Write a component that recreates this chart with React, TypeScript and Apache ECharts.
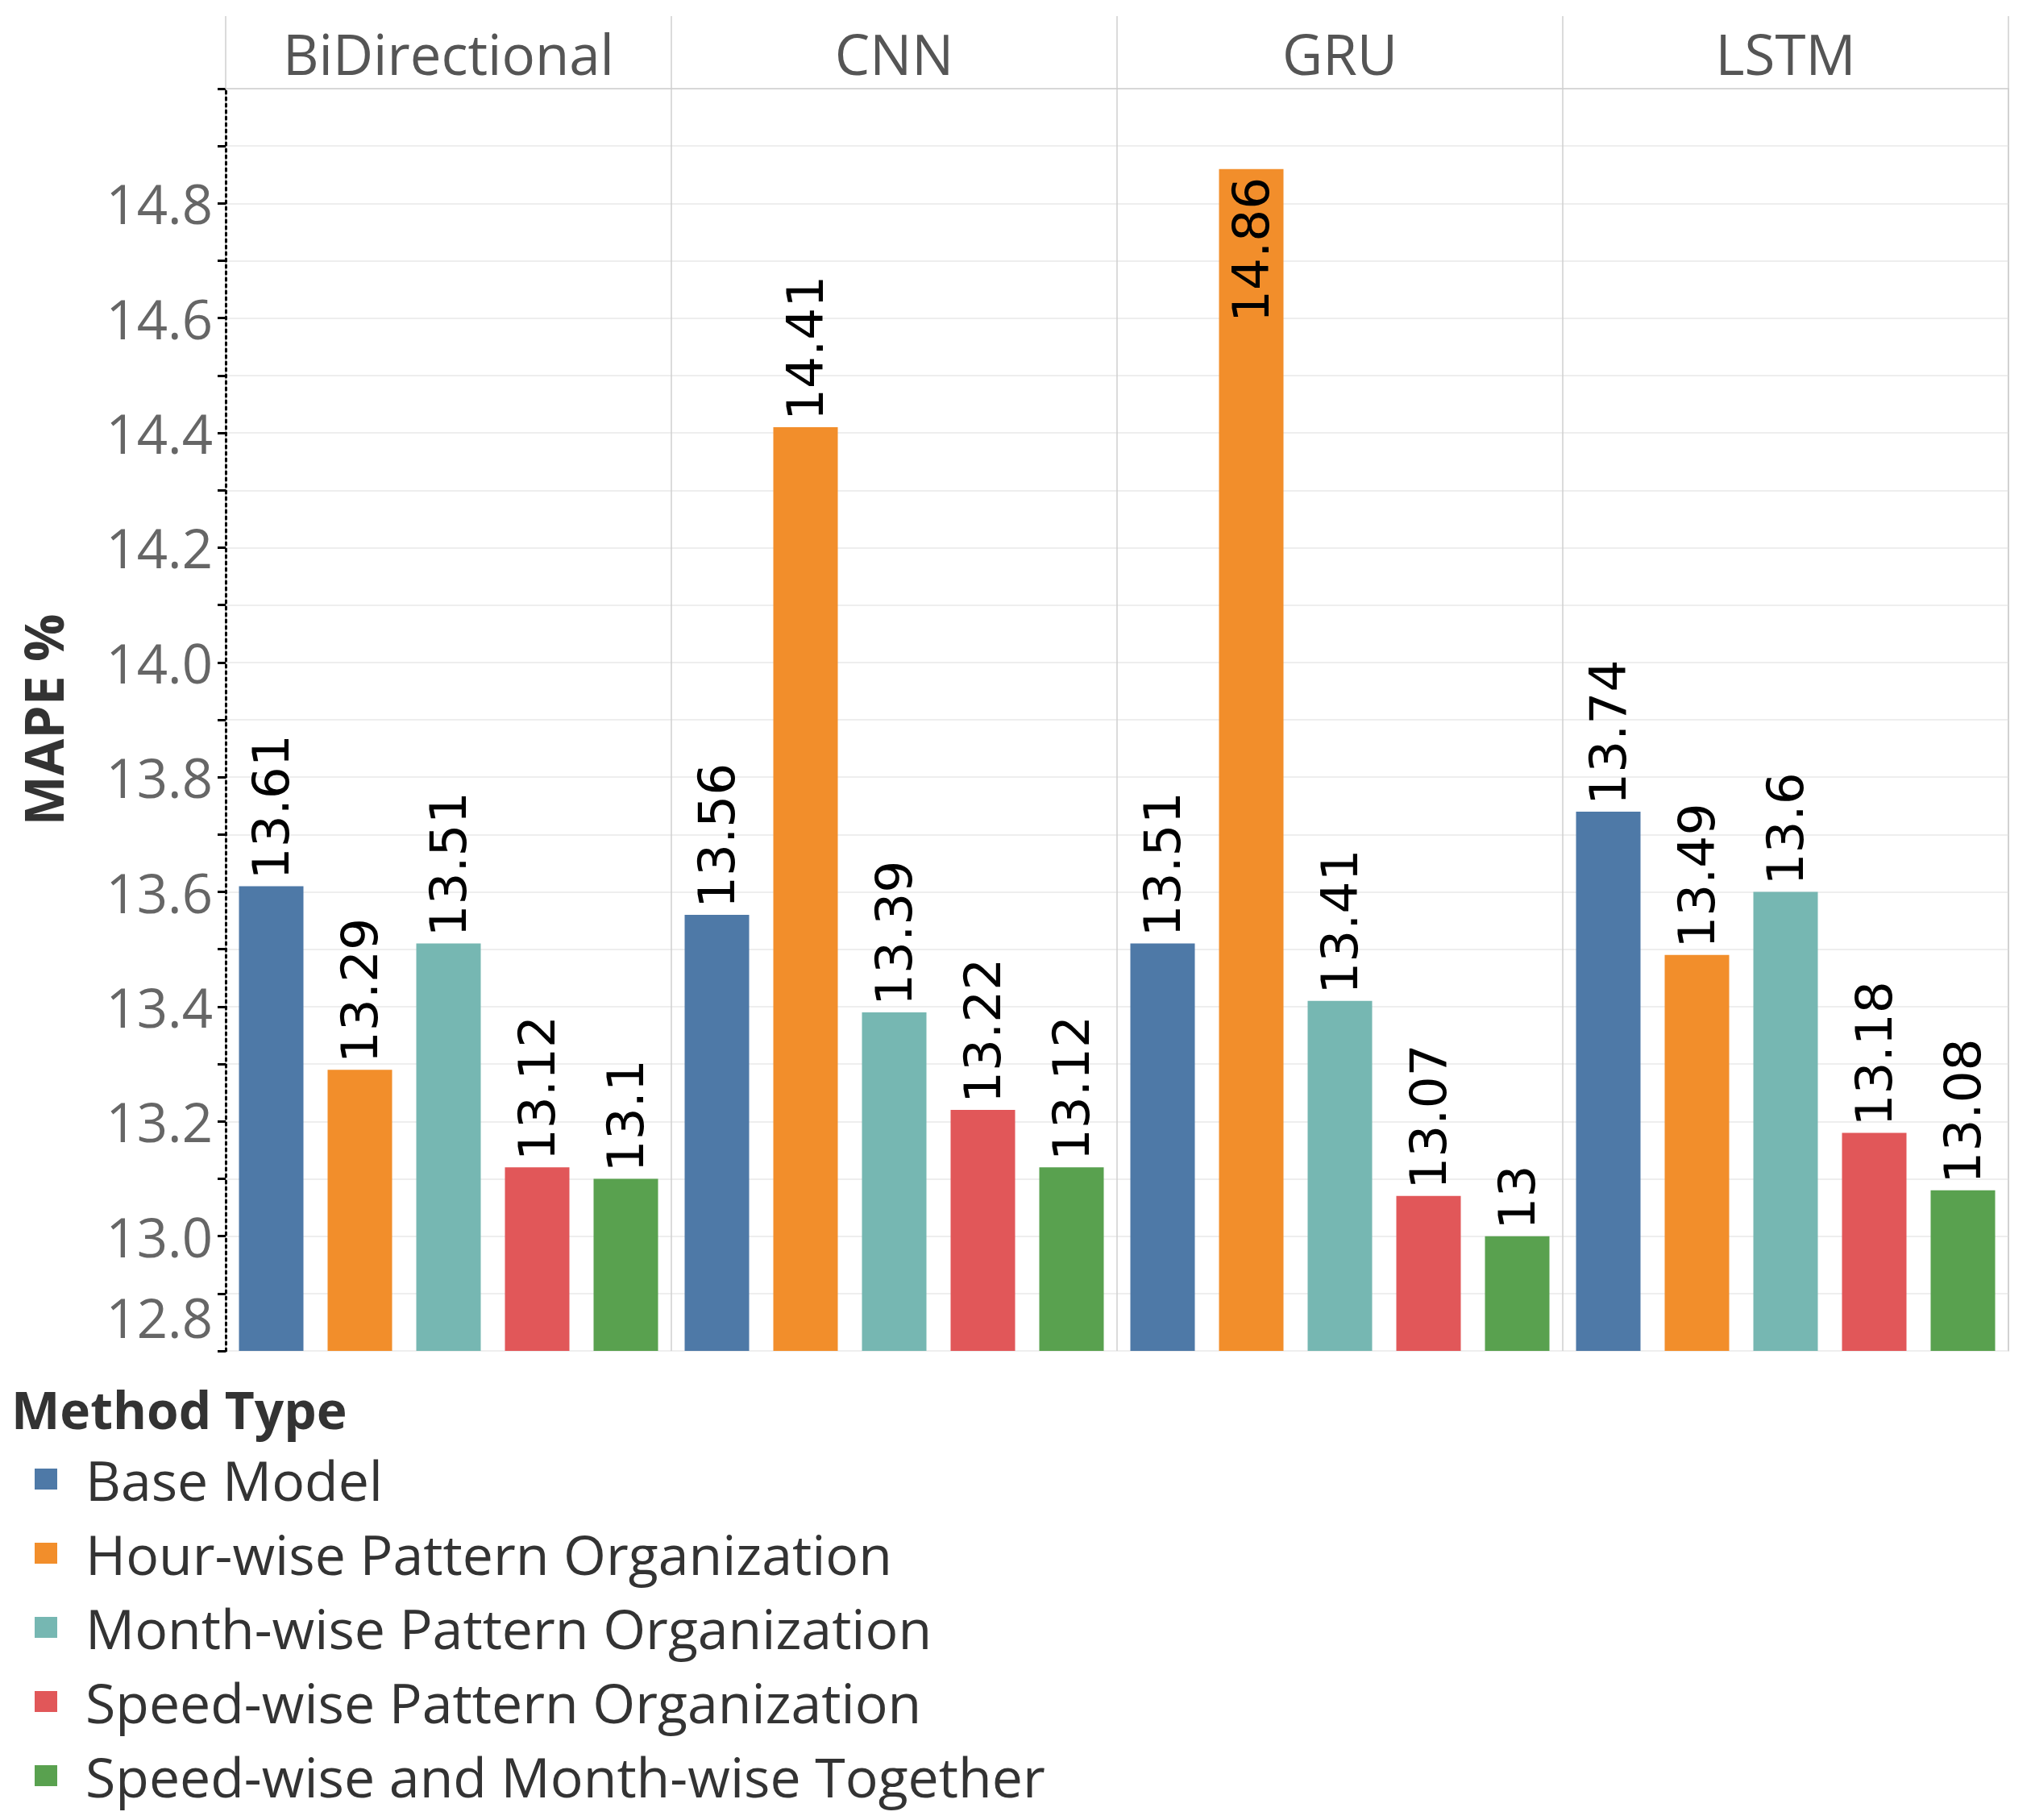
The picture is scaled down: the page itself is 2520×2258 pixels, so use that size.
import React, { useEffect, useRef } from "react";
import * as echarts from "echarts";

const categories = ["BiDirectional", "CNN", "GRU", "LSTM"];
const methodNames = [
  "Base Model",
  "Hour-wise Pattern Organization",
  "Month-wise Pattern Organization",
  "Speed-wise Pattern Organization",
  "Speed-wise and Month-wise Together",
];
const methodColors = ["#4e79a7", "#f28e2b", "#76b7b2", "#e15759", "#59a14f"];

const baseModel = [13.61, 13.56, 13.51, 13.74];
const hourWise = [13.29, 14.41, 14.86, 13.49];
const monthWise = [13.51, 13.39, 13.41, 13.6];
const speedWise = [13.12, 13.22, 13.07, 13.18];
const speedMonthTogether = [13.1, 13.12, 13, 13.08];

const seriesValues = [baseModel, hourWise, monthWise, speedWise, speedMonthTogether];

const yMin = 12.8;
const yMax = 15.0;
const yInterval = 0.1;

const FONT = "'Open Sans', 'Noto Sans', sans-serif";
const LABEL_FONT = "'DejaVu Sans', sans-serif";

export default function App() {
  const ref = useRef<HTMLDivElement>(null);

  useEffect(() => {
    document.body.style.margin = "0";
    if (!ref.current) return;
    const chart = echarts.init(ref.current, null, { renderer: "svg" });

    const series = seriesValues.map((vals, si) => ({
      type: "bar",
      name: methodNames[si],
      barWidth: 80,
      barGap: "37.5%",
      itemStyle: { color: methodColors[si] },
      label: {
        show: true,
        position: "top",
        rotate: 90,
        align: "left",
        verticalAlign: "middle",
        distance: 8,
        fontFamily: LABEL_FONT,
        fontSize: 63,
        color: "#000",
      },
      data: vals.map((v) => {
        // label that would overflow the top of the plot is placed inside the bar
        if (v > yMax - 0.3) {
          return {
            value: v,
            label: { position: "insideTop", align: "right", distance: 10 },
          };
        }
        return v;
      }),
    }));

    chart.setOption({
      animation: false,
      backgroundColor: "#ffffff",
      title: {
        text: "Method Type",
        left: 14,
        top: 1716,
        padding: 0,
        textStyle: {
          fontFamily: FONT,
          fontSize: 64,
          fontWeight: "bold",
          color: "#333333",
        },
      },
      legend: {
        orient: "vertical",
        left: 38,
        top: 1796,
        itemWidth: 28,
        itemHeight: 26,
        itemGap: 24,
        icon: "rect",
        data: methodNames,
        textStyle: {
          fontFamily: FONT,
          fontSize: 68,
          lineHeight: 68,
          color: "#333333",
          padding: [0, 0, 0, 30],
        },
      },
      grid: {
        left: 280,
        right: 28,
        top: 110,
        bottom: 582,
        show: true,
        borderColor: "#cfcfcf",
        borderWidth: 1.5,
      },
      xAxis: {
        type: "category",
        position: "top",
        data: categories,
        axisLine: { show: true, lineStyle: { color: "#cfcfcf", width: 1.5 } },
        axisTick: {
          show: true,
          inside: false,
          length: 90,
          lineStyle: { color: "#cfcfcf", width: 1.5 },
        },
        splitLine: { show: true, lineStyle: { color: "#cfcfcf", width: 1.5 } },
        axisLabel: {
          fontFamily: FONT,
          fontSize: 69,
          color: "#555555",
          margin: 10,
        },
      },
      yAxis: {
        type: "value",
        min: yMin,
        max: yMax,
        interval: yInterval,
        name: "MAPE %",
        nameLocation: "middle",
        nameRotate: 90,
        nameGap: 194,
        nameTextStyle: {
          fontFamily: FONT,
          fontSize: 66,
          fontWeight: "bold",
          color: "#333333",
        },
        axisLine: {
          show: true,
          lineStyle: { color: "#000000", width: 3, type: [3, 5] },
        },
        axisTick: { show: true, length: 10, lineStyle: { color: "#000000", width: 3 } },
        splitLine: { show: true, lineStyle: { color: "#eeeeee", width: 2 } },
        axisLabel: {
          fontFamily: FONT,
          fontSize: 67,
          color: "#666666",
          margin: 16,
          formatter: (v: number) => {
            const k = Math.round(v * 10);
            if (k % 2 !== 0) return "";
            if (k === Math.round(yMax * 10)) return "";
            if (k === Math.round(yMin * 10)) return "{low|" + v.toFixed(1) + "}";
            return v.toFixed(1);
          },
          rich: {
            low: {
              fontFamily: FONT,
              fontSize: 67,
              color: "#666666",
              padding: [0, 0, 84, 0],
            },
          },
        },
      },
      series,
    });

    return () => chart.dispose();
  }, []);

  return <div ref={ref} style={{ width: 2520, height: 2258 }} />;
}
